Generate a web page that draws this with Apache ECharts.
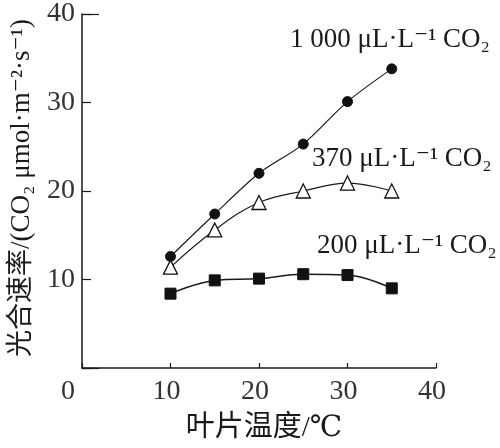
<!DOCTYPE html>
<html><head><meta charset="utf-8">
<script src="https://cdn.jsdelivr.net/npm/echarts@6/dist/echarts.min.js"></script>
<style>html,body{margin:0;padding:0;background:#fff}#c{width:500px;height:448px}</style>
</head><body><div id="c"></div>
<script>
var temps = [10, 15, 20, 25, 30, 35];
var co2_1000 = [12.6, 17.4, 22.0, 25.3, 30.1, 33.8];
var co2_370 = [11.4, 15.6, 18.7, 20.0, 20.9, 20.0];
var co2_200 = [8.4, 9.9, 10.1, 10.6, 10.5, 9.0];
var seriesNames = ['1 000 μL·L⁻¹ CO₂', '370 μL·L⁻¹ CO₂', '200 μL·L⁻¹ CO₂'];
var xName = '叶片温度/℃';
var yName = '光合速率/(CO₂ μmol·m⁻²·s⁻¹)';

var serif = '"Times New Roman","Liberation Serif","DejaVu Serif","Noto Sans CJK SC",serif';
var ink = '#1a1a1a';
function pairs(v){ return temps.map(function(t,i){ return [t, v[i]]; }); }

var chart = echarts.init(document.getElementById('c'));
chart.setOption({
  backgroundColor: '#fff',
  animation: false,
  grid: { left: 78, right: 64, top: 14, bottom: 78 },
  xAxis: {
    type: 'value', min: 0, max: 40, interval: 10,
    name: xName, nameLocation: 'middle', nameGap: 46,
    nameTextStyle: { fontFamily: serif, fontSize: 29, color: ink, padding: [0, 0, 0, 10] },
    axisLine: { lineStyle: { color: ink, width: 1.5 } },
    axisTick: { inside: true, length: 5, lineStyle: { color: ink, width: 1.2 } },
    axisLabel: {
      margin: 10, fontFamily: serif, fontSize: 28, color: '#333',
      formatter: function(v){ return v === 0 ? '{n|0}{z| }' : '{n|' + v + '}{s| }'; },
      rich: { n: { fontFamily: serif, fontSize: 28, color: '#333' },
              z: { fontSize: 10, width: 28 },
              s: { fontSize: 10, width: 8 } }
    },
    splitLine: { show: false }
  },
  yAxis: [{
    type: 'value', min: 0, max: 40, interval: 10,
    name: yName, nameLocation: 'middle', nameGap: 47, nameRotate: 90,
    nameTextStyle: { fontFamily: serif, fontSize: 27, color: ink, padding: [0, 0, 0, 6] },
    axisLine: { lineStyle: { color: ink, width: 1.5 } },
    axisTick: { inside: true, length: 9, lineStyle: { color: ink, width: 1.2 } },
    axisLabel: {
      margin: 7, fontFamily: serif, fontSize: 28, color: '#333',
      formatter: function(v){ return v === 0 ? '' : v; }
    },
    splitLine: { show: false }
  }, {
    type: 'value', min: 0, max: 40, interval: 40, position: 'left',
    axisLine: { show: false },
    axisTick: { inside: true, length: 17, lineStyle: { color: ink, width: 1.2 } },
    axisLabel: { show: false },
    splitLine: { show: false }
  }],
  series: [{
    name: seriesNames[0], type: 'line', data: pairs(co2_1000), smooth: 0.3,
    symbol: 'circle', symbolSize: 10,
    lineStyle: { color: ink, width: 1.2 },
    itemStyle: { color: '#111', borderColor: '#111', borderWidth: 1 }
  }, {
    name: seriesNames[1], type: 'line', data: pairs(co2_370), smooth: 0.4,
    symbol: 'triangle', symbolSize: 14,
    lineStyle: { color: ink, width: 1.2 },
    itemStyle: { color: '#fff', borderColor: '#111', borderWidth: 1.3 }
  }, {
    name: seriesNames[2], type: 'line', data: pairs(co2_200), smooth: 0.4,
    symbol: 'rect', symbolSize: 11,
    lineStyle: { color: ink, width: 1.5 },
    itemStyle: { color: '#111', borderColor: '#111', borderWidth: 1 }
  }],
  graphic: [
    { type: 'text', left: 290, top: 26, style: { text: seriesNames[0], font: '27px ' + serif, fill: ink } },
    { type: 'text', left: 312, top: 145, style: { text: seriesNames[1], font: '27px ' + serif, fill: ink } },
    { type: 'text', left: 317, top: 232, style: { text: seriesNames[2], font: '27px ' + serif, fill: ink } }
  ]
});
</script></body></html>
